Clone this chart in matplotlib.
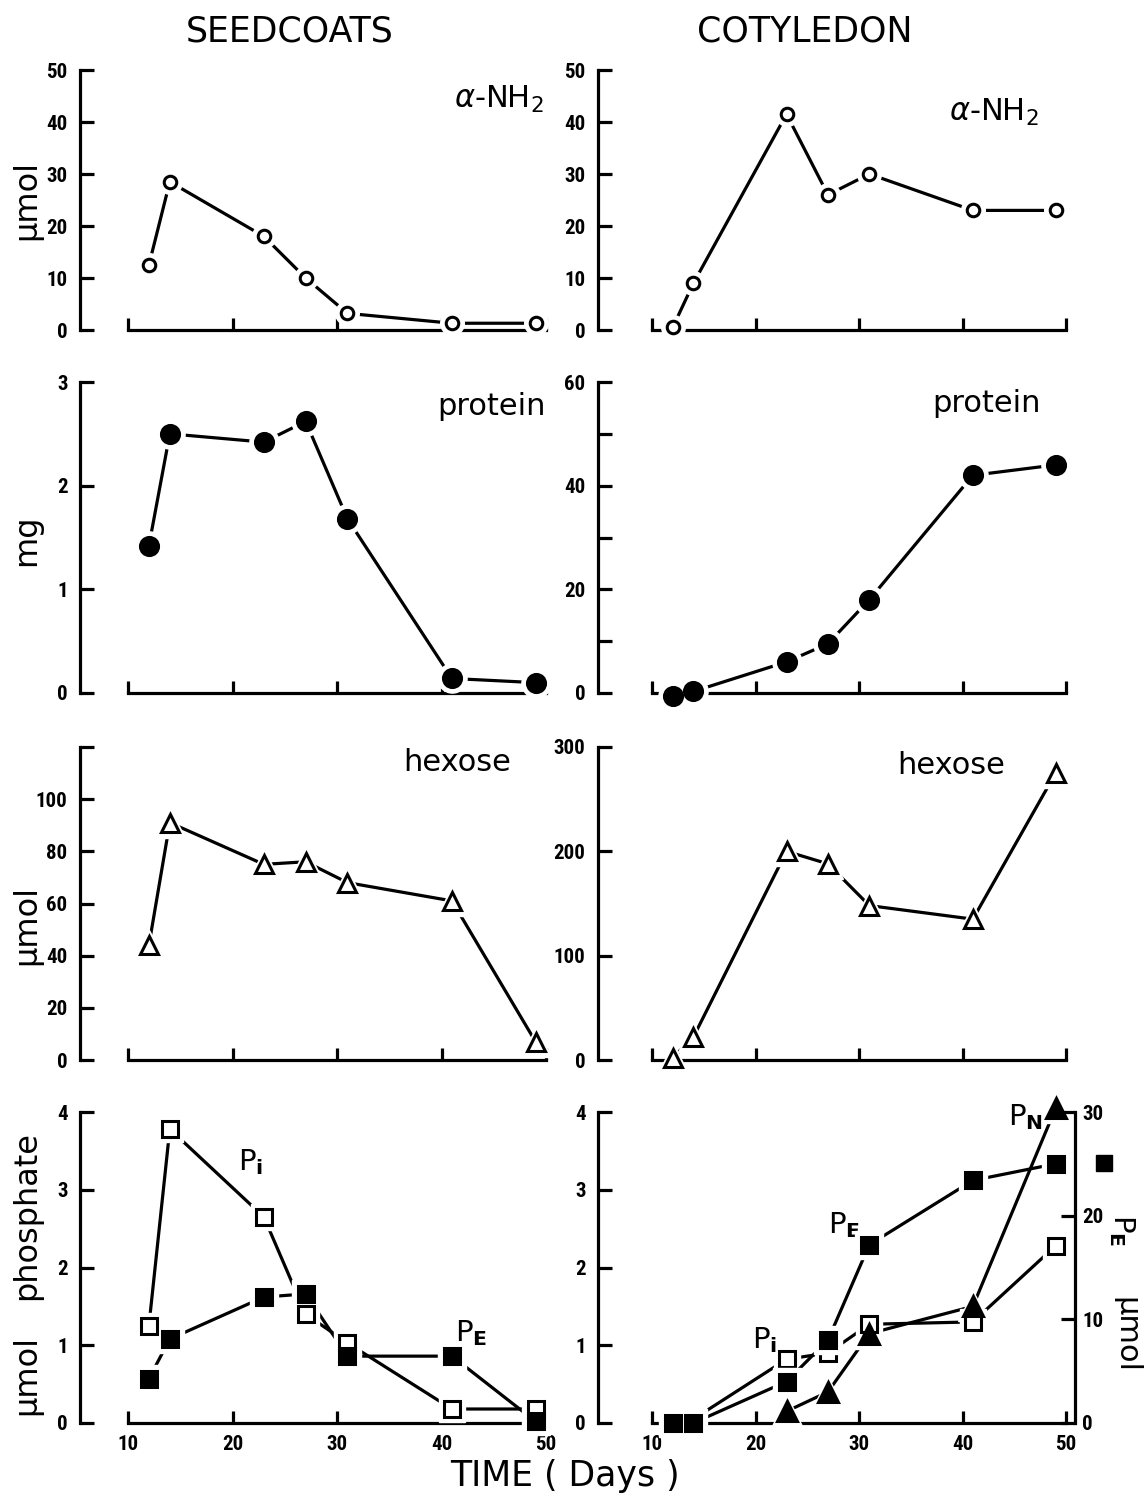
import matplotlib
matplotlib.use("Agg")
import matplotlib.pyplot as plt

W, H = 1146, 1504

days = [12, 14, 23, 27, 31, 41, 49]
days_pn = [23, 27, 31, 41, 49]

# seedcoats
sc_nh2 = [12.5, 28.5, 18, 10, 3.2, 1.3, 1.3]
sc_protein = [1.42, 2.5, 2.42, 2.62, 1.68, 0.14, 0.1]
sc_hexose = [44, 91, 75, 76, 68, 61, 7]
sc_pi = [1.25, 3.78, 2.65, 1.4, 1.03, 0.18, 0.18]
sc_pe = [0.57, 1.08, 1.62, 1.66, 0.86, 0.86, 0.02]

# cotyledon
co_nh2 = [0.5, 9, 41.5, 26, 30, 23, 23]
co_protein = [-0.5, 0.3, 6, 9.5, 18, 42, 44]
co_hexose = [2, 22, 200, 188, 148, 135, 275]
co_pi = [0.03, 0.05, 0.82, 0.9, 1.27, 1.3, 2.28]
co_pe = [0.0, 0.0, 4.0, 8.0, 17.2, 23.4, 25.0]   # right axis, umol
co_pn = [0.15, 0.4, 1.15, 1.5, 4.05]

TICKFONT = ["Roboto Condensed", "Liberation Sans Narrow", "DejaVu Sans"]
LW = 2.3

fig = plt.figure(figsize=(W / 100, H / 100), dpi=100)


def fx(px):
    return px / W


def fy(py):
    return 1 - py / H


cols = {"L": (80, 128, 546), "R": (598, 652, 1066)}
rows = [(330, 70), (693, 382), (1060, 747), (1423, 1112)]


def make_ax(col, row, ytop, yticks, ylabels, xlabels=False):
    spine, x10, x50 = cols[col]
    y0, yt = rows[row]
    scale = (x50 - x10) / 40.0
    right = x50 + 6
    ax = fig.add_axes([fx(spine), fy(y0), (right - spine) / W, (y0 - yt) / H])
    ax.set_xlim(10 - (x10 - spine) / scale, 50 + 6 / scale)
    ax.set_ylim(0, ytop)
    ax.patch.set_alpha(0)
    for s in ["top", "right"]:
        ax.spines[s].set_visible(False)
    ax.spines["left"].set_linewidth(LW)
    ax.spines["bottom"].set_linewidth(LW)
    ax.spines["bottom"].set_bounds(10, 50)
    ax.spines["left"].set_bounds(0, ytop)
    ax.set_xticks([10, 20, 30, 40, 50])
    ax.set_yticks(yticks)
    ax.set_yticklabels(ylabels, family=TICKFONT, fontweight="bold", fontsize=15)
    if xlabels:
        ax.set_xticklabels(["10", "20", "30", "40", "50"], family=TICKFONT,
                           fontweight="bold", fontsize=15)
    else:
        ax.set_xticklabels([])
    ax.tick_params(axis="y", direction="in", length=10, width=LW, pad=9)
    ax.tick_params(axis="x", direction="in", length=9, width=LW, pad=9)
    return ax


def series(ax, x, y, marker, filled, ms):
    ax.plot(x, y, color="black", lw=LW, zorder=2, clip_on=False)
    ax.plot(x, y, ls="none", marker=marker, ms=ms + 8, mfc="white", mec="white",
            zorder=3, clip_on=False)
    ax.plot(x, y, ls="none", marker=marker, ms=ms, mfc="black" if filled else "white",
            mec="black", mew=2.2, zorder=4, clip_on=False)


# row 1
ax = make_ax("L", 0, 50, [0, 10, 20, 30, 40, 50], ["0", "10", "20", "30", "40", "50"])
series(ax, days, sc_nh2, "o", False, 9)
ax.text(49.8, 44.4, r"$\alpha$-NH$_2$", fontsize=22, ha="right", va="center")

ax = make_ax("R", 0, 50, [0, 10, 20, 30, 40, 50], ["0", "10", "20", "30", "40", "50"])
series(ax, days, co_nh2, "o", False, 9)
ax.text(47.3, 41.8, r"$\alpha$-NH$_2$", fontsize=22, ha="right", va="center")

# row 2
ax = make_ax("L", 1, 3, [0, 1, 2, 3], ["0", "1", "2", "3"])
series(ax, days, sc_protein, "o", True, 13)
ax.text(50, 2.76, "protein", fontsize=22, ha="right", va="center")

ax = make_ax("R", 1, 60, [0, 10, 20, 30, 40, 50, 60], ["0", "", "20", "", "40", "", "60"])
series(ax, days, co_protein, "o", True, 13)
ax.text(47.6, 55.8, "protein", fontsize=22, ha="right", va="center")

# row 3
ax = make_ax("L", 2, 120, [0, 20, 40, 60, 80, 100, 120],
             ["0", "20", "40", "60", "80", "100", ""])
series(ax, days, sc_hexose, "^", False, 13)
ax.text(46.7, 114, "hexose", fontsize=22, ha="right", va="center")

ax = make_ax("R", 2, 300, [0, 100, 200, 300], ["0", "100", "200", "300"])
series(ax, days, co_hexose, "^", False, 13)
ax.text(44.1, 282, "hexose", fontsize=22, ha="right", va="center")

# row 4
ax = make_ax("L", 3, 4, [0, 1, 2, 3, 4], ["0", "1", "2", "3", "4"], xlabels=True)
series(ax, days, sc_pi, "s", False, 11)
series(ax, days, sc_pe, "s", True, 12)
ax.text(21.7, 3.35, r"P$_\mathbf{i}$", fontsize=21, ha="center", va="center")
ax.text(42.8, 1.15, r"P$_\mathbf{E}$", fontsize=21, ha="center", va="center")

ax = make_ax("R", 3, 4, [0, 1, 2, 3, 4], ["0", "1", "2", "3", "4"], xlabels=True)
ax2 = ax.twinx()
ax2.set_ylim(0, 30)
ax2.patch.set_alpha(0)
for s in ["top", "left", "bottom"]:
    ax2.spines[s].set_visible(False)
ax2.spines["right"].set_position(("data", 50.9))
ax2.spines["right"].set_linewidth(LW)
ax2.spines["right"].set_bounds(0, 30)
ax2.set_yticks([0, 10, 20, 30])
ax2.set_yticklabels(["0", "10", "20", "30"], family=TICKFONT, fontweight="bold", fontsize=15)
ax2.tick_params(axis="y", direction="in", length=10, width=LW, pad=5)
series(ax, days, co_pi, "s", False, 11)
series(ax2, days, co_pe, "s", True, 12)
series(ax, days_pn, co_pn, "^", True, 14)
ax.text(20.9, 1.06, r"P$_\mathbf{i}$", fontsize=21, ha="center", va="center")
ax.text(28.6, 2.55, r"P$_\mathbf{E}$", fontsize=21, ha="center", va="center")
ax.text(46.1, 3.94, r"P$_\mathbf{N}$", fontsize=21, ha="center", va="center")

# right-hand axis label with legend square
fig.lines.append(plt.Line2D([fx(1104)], [fy(1163)], transform=fig.transFigure,
                            marker="s", ms=11, mfc="black", mec="black", ls="none"))
fig.text(fx(1122), fy(1230), r"P$_\mathbf{E}$", fontsize=21, rotation=-90,
         ha="center", va="center")
fig.text(fx(1126), fy(1335), "μmol", fontsize=22, rotation=-90, ha="center", va="center")

# titles and axis labels
fig.text(fx(290), fy(32), "SEEDCOATS", fontsize=25, ha="center", va="center")
fig.text(fx(805), fy(32), "COTYLEDON", fontsize=25, ha="center", va="center")
fig.text(fx(27), fy(200), "μmol", fontsize=23, rotation=90, ha="center", va="center")
fig.text(fx(27), fy(540), "mg", fontsize=23, rotation=90, ha="center", va="center")
fig.text(fx(27), fy(925), "μmol", fontsize=23, rotation=90, ha="center", va="center")
fig.text(fx(27), fy(1375), "μmol", fontsize=23, rotation=90, ha="center", va="center")
fig.text(fx(27), fy(1215), "phosphate", fontsize=23, rotation=90, ha="center", va="center")
fig.text(fx(565), fy(1476), "TIME ( Days )", fontsize=25, ha="center", va="center")

fig.savefig("out.png", dpi=100)
